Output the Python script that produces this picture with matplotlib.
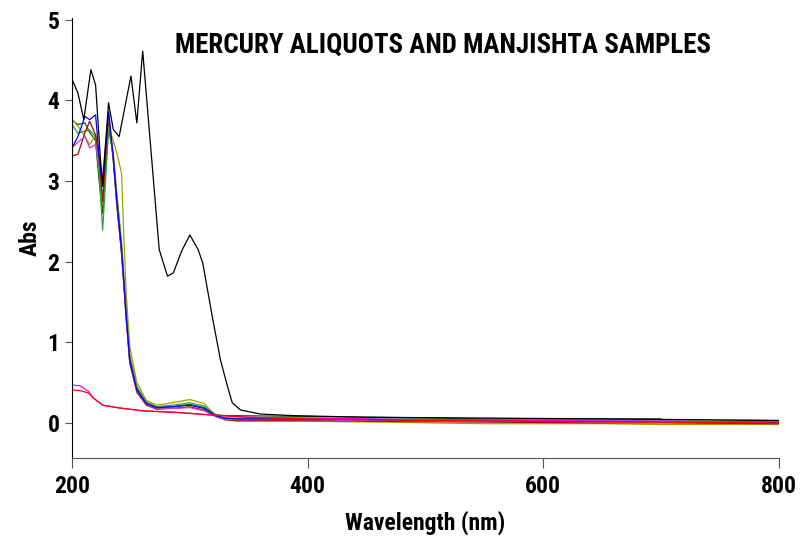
import matplotlib
matplotlib.use('Agg')
import matplotlib.pyplot as plt
import numpy as np

plt.rcParams['font.family'] = ['Roboto Condensed', 'DejaVu Sans']

# Mercury standard scan
wl_hg = [200, 205, 210, 216, 220, 224, 226, 231, 235, 240, 250, 255, 260, 274, 281,
         286, 293, 300, 307, 311, 319, 326, 332, 336, 343, 360, 388, 450, 550, 650, 800]
abs_hg = [4.26, 4.09, 3.76, 4.38, 4.19, 3.30, 2.95, 3.97, 3.64, 3.55, 4.30, 3.72, 4.61, 2.15, 1.82,
          1.86, 2.13, 2.33, 2.15, 1.98, 1.32, 0.78, 0.45, 0.25, 0.16, 0.11, 0.09, 0.07, 0.06, 0.05, 0.03]

# Aliquot scans (shared wavelength grid)
wl_aliq = [200, 205, 211, 215, 220, 223, 226, 231, 235, 238, 242, 244, 246, 249, 255,
           263, 272, 285, 300, 312, 322, 330, 340, 400, 460, 550, 650, 700, 800]
abs_blue = [3.41, 3.55, 3.80, 3.76, 3.82, 3.30, 2.93, 3.86, 3.30, 2.75, 2.15, 1.74, 1.32, 0.78, 0.41,
            0.24, 0.19, 0.20, 0.22, 0.18, 0.09, 0.06, 0.05, 0.05, 0.04, 0.03, 0.02, 0.02, 0.01]
abs_maroon = [3.31, 3.33, 3.60, 3.74, 3.57, 3.30, 2.75, 3.83, 3.25, 2.70, 2.10, 1.70, 1.28, 0.74, 0.38,
              0.22, 0.17, 0.18, 0.20, 0.16, 0.08, 0.04, 0.03, 0.03, 0.02, 0.01, 0.00, 0.00, -0.01]
abs_purple = [3.41, 3.48, 3.55, 3.41, 3.45, 3.20, 3.06, 3.86, 3.28, 2.72, 2.12, 1.72, 1.30, 0.76, 0.40,
              0.23, 0.18, 0.18, 0.19, 0.15, 0.08, 0.05, 0.04, 0.04, 0.03, 0.02, 0.02, 0.02, 0.01]
abs_green = [3.70, 3.59, 3.62, 3.63, 3.55, 3.10, 2.39, 3.63, 3.35, 2.85, 2.25, 1.82, 1.40, 0.84, 0.45,
             0.26, 0.20, 0.22, 0.25, 0.21, 0.10, 0.06, 0.06, 0.06, 0.05, 0.04, 0.04, 0.04, 0.03]
abs_olive = [3.77, 3.68, 3.55, 3.45, 3.57, 3.20, 2.73, 3.67, 3.50, 3.35, 3.10, 2.30, 1.60, 0.95, 0.50,
             0.28, 0.22, 0.25, 0.29, 0.24, 0.09, 0.04, 0.02, 0.02, 0.01, -0.01, -0.01, -0.02, -0.02]
abs_dkgreen = [3.75, 3.70, 3.72, 3.60, 3.50, 3.00, 2.60, 3.70, 3.30, 2.80, 2.18, 1.77, 1.36, 0.80, 0.43,
               0.25, 0.19, 0.20, 0.23, 0.19, 0.10, 0.09, 0.09, 0.08, 0.07, 0.05, 0.05, 0.05, np.nan]

# Manjishta sample scans
wl_manj = [200, 207, 214, 218, 226, 238, 260, 289, 317, 350, 400, 500, 600, 700, 800]
abs_magenta = [0.47, 0.46, 0.39, 0.31, 0.22, 0.19, 0.15, 0.13, 0.10, 0.07, 0.06, 0.04, 0.03, 0.02, 0.01]
abs_red = [0.41, 0.40, 0.37, 0.31, 0.22, 0.19, 0.15, 0.13, 0.10, 0.07, 0.05, 0.03, 0.02, 0.01, 0.00]

fig = plt.figure(figsize=(8.02, 5.38), dpi=100)
ax = fig.add_axes([0.0898, 0.1487, 0.8815, 0.8178])

ax.plot(wl_aliq, abs_dkgreen, color='#006400', lw=0.9)
ax.plot(wl_aliq, abs_olive, color='#a0a000', lw=0.9)
ax.plot(wl_aliq, abs_green, color='#30a030', lw=0.9)
ax.plot(wl_aliq, abs_maroon, color='#a01010', lw=0.9)
ax.plot(wl_aliq, abs_purple, color='#c040c0', lw=0.9)
ax.plot(wl_aliq, abs_blue, color='#0000ff', lw=0.9)
ax.plot(wl_manj, abs_magenta, color='#ff00ff', lw=0.9)
ax.plot(wl_manj, abs_red, color='#ff0000', lw=0.9)
ax.plot(wl_hg, abs_hg, color='black', lw=0.9)

ax.set_xlim(200, 800)
ax.set_ylim(-0.435, 5.02)
ax.set_xticks([200, 400, 600, 800])
ax.set_yticks([0, 1, 2, 3, 4, 5])

ax.spines['top'].set_visible(False)
ax.spines['right'].set_visible(False)
ax.spines['bottom'].set_color('#555555')
ax.spines['left'].set_color('black')
ax.tick_params(axis='x', direction='out', length=7, color='#555555', labelsize=17, pad=5)
ax.tick_params(axis='y', direction='out', length=5, color='#555555', labelsize=17, pad=4)
for lab in ax.get_xticklabels() + ax.get_yticklabels():
    lab.set_fontweight('bold')

ax.set_xlabel('Wavelength (nm)', fontsize=17, fontweight='bold', labelpad=9)
ax.set_ylabel('Abs', fontsize=17, fontweight='bold', labelpad=4)
ax.text(0.525, 0.939, 'MERCURY ALIQUOTS AND MANJISHTA SAMPLES', transform=ax.transAxes,
        ha='center', va='center', fontsize=19.4, fontweight='bold')

fig.savefig('out.png', dpi=100)
